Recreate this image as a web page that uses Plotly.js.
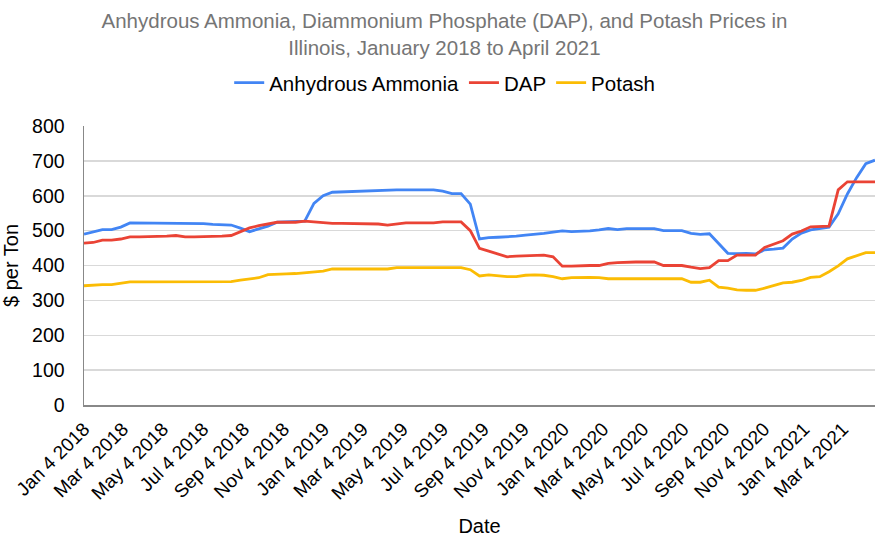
<!DOCTYPE html>
<html>
<head>
<meta charset="utf-8">
<script src="https://cdn.plot.ly/plotly-3.0.1.min.js"></script>
<style>html,body{margin:0;padding:0;background:#fff;}#chart{width:889px;height:544px;}</style>
</head>
<body>
<div id="chart"></div>
<script>
const dates = [
"2018-01-04","2018-01-18","2018-02-01","2018-02-15","2018-03-01","2018-03-15","2018-03-29","2018-04-12","2018-04-26","2018-05-10",
"2018-05-24","2018-06-07","2018-06-21","2018-07-05","2018-07-19","2018-08-02","2018-08-16","2018-08-30","2018-09-13","2018-09-27",
"2018-10-11","2018-10-25","2018-11-08","2018-11-22","2018-12-06","2018-12-20","2019-01-03","2019-01-17","2019-01-31","2019-02-14",
"2019-02-28","2019-03-14","2019-03-28","2019-04-11","2019-04-25","2019-05-09","2019-05-23","2019-06-06","2019-06-20","2019-07-04",
"2019-07-18","2019-08-01","2019-08-15","2019-08-29","2019-09-12","2019-09-26","2019-10-10","2019-10-24","2019-11-07","2019-11-21",
"2019-12-05","2019-12-19","2020-01-02","2020-01-16","2020-01-30","2020-02-13","2020-02-27","2020-03-12","2020-03-26","2020-04-09",
"2020-04-23","2020-05-07","2020-05-21","2020-06-04","2020-06-18","2020-07-02","2020-07-16","2020-07-30","2020-08-13","2020-08-27",
"2020-09-10","2020-09-24","2020-10-08","2020-10-22","2020-11-05","2020-11-19","2020-12-03","2020-12-17","2020-12-31","2021-01-14",
"2021-01-28","2021-02-11","2021-02-25","2021-03-11","2021-03-25","2021-04-08","2021-04-22"];

const anhydrousAmmonia = [
490,497,503,503,510,522,522,522,522,522,
522,520,520,520,518,518,516,507,497,505,
513,524,525,525,527,578,600,610,611,613,
615,616,617,617,617,617,617,617,617,613,
606,606,576,476,480,481,482,484,487,489,
492,496,499,497,497,499,502,506,503,506,
506,506,506,500,500,500,492,489,491,462,
435,434,435,433,445,447,450,476,493,502,
505,510,548,605,652,692,702];

const dap = [
464,466,473,473,476,482,482,482,482,484,
486,482,482,482,483,484,486,497,508,514,
519,524,524,524,527,525,522,521,521,521,
521,521,519,516,519,522,522,522,522,525,
525,525,500,449,441,432,425,427,428,429,
430,425,398,398,400,400,400,406,408,410,
410,410,410,400,400,400,395,391,394,414,
414,430,430,430,452,462,471,490,499,511,
513,513,617,640,640,640,640];

const potash = [
342,344,345,345,350,353,353,353,353,353,
353,353,353,353,353,354,354,358,362,365,
374,376,376,377,380,381,384,390,390,390,
390,390,390,390,394,394,394,394,394,394,
394,394,388,370,373,370,368,368,372,373,
372,368,362,365,366,366,365,362,362,362,
362,362,362,362,362,362,352,352,358,338,
335,330,329,329,335,343,350,352,357,366,
368,382,399,419,429,437,437];

const tickDates = ["2018-01-04","2018-03-04","2018-05-04","2018-07-04","2018-09-04","2018-11-04","2019-01-04","2019-03-04","2019-05-04","2019-07-04",
"2019-09-04","2019-11-04","2020-01-04","2020-03-04","2020-05-04","2020-07-04","2020-09-04","2020-11-04","2021-01-04","2021-03-04"];
const tickLabels = ["Jan 4 2018","Mar 4 2018","May 4 2018","Jul 4 2018","Sep 4 2018","Nov 4 2018","Jan 4 2019","Mar 4 2019","May 4 2019","Jul 4 2019",
"Sep 4 2019","Nov 4 2019","Jan 4 2020","Mar 4 2020","May 4 2020","Jul 4 2020","Sep 4 2020","Nov 4 2020","Jan 4 2021","Mar 4 2021"];

const seriesNames = ["Anhydrous Ammonia","DAP","Potash"];
const colors = ["#4285F4","#EA4335","#FBBC04"];
const allSeries = [anhydrousAmmonia, dap, potash];

const traces = allSeries.map((s,k)=>({
  x: dates, y: s, type:"scatter", mode:"lines", name: seriesNames[k],
  line:{color:colors[k], width:2.8}
}));

const layout = {
  width:889, height:544,
  margin:{l:84, r:14, t:126, b:139, autoexpand:false},
  paper_bgcolor:"#fff", plot_bgcolor:"#fff",
  font:{family:"Arial, 'Liberation Sans', sans-serif", color:"#000", size:18},
  title:{text:"Anhydrous Ammonia, Diammonium Phosphate (DAP), and Potash Prices in<br>Illinois, January 2018 to April 2021",
    font:{size:20.5, color:"#757575"}, x:0.5, xanchor:"center", xref:"container", y:0.948, yanchor:"middle", yref:"container"},
  showlegend:true,
  legend:{orientation:"h", x:0.456, xanchor:"center", y:1.155, yanchor:"middle",
    font:{size:20.5, color:"#000"}},
  xaxis:{type:"date", range:[dates[0], dates[dates.length-1]], tickmode:"array", tickvals:tickDates, ticktext:tickLabels,
    tickangle:-45, tickfont:{size:19}, showgrid:false, zeroline:false, showline:true, linecolor:"#888", linewidth:1.5,
    ticks:"outside", ticklen:4, tickcolor:"rgba(0,0,0,0)", automargin:false,
    title:{text:"Date", font:{size:20}, standoff:16}},
  yaxis:{range:[0,800], tickmode:"array", tickvals:[0,100,200,300,400,500,600,700,800], showgrid:true, gridcolor:"#d9d9d9", gridwidth:1.5,
    zeroline:false, showline:true, linecolor:"#888", linewidth:1.5, tickfont:{size:19.5}, automargin:false,
    ticks:"outside", ticklen:14, tickcolor:"rgba(0,0,0,0)",
    title:{text:"$ per Ton", font:{size:20}, standoff:14}}
};

Plotly.newPlot("chart", traces, layout, {displayModeBar:false, staticPlot:true});
</script>
</body>
</html>
